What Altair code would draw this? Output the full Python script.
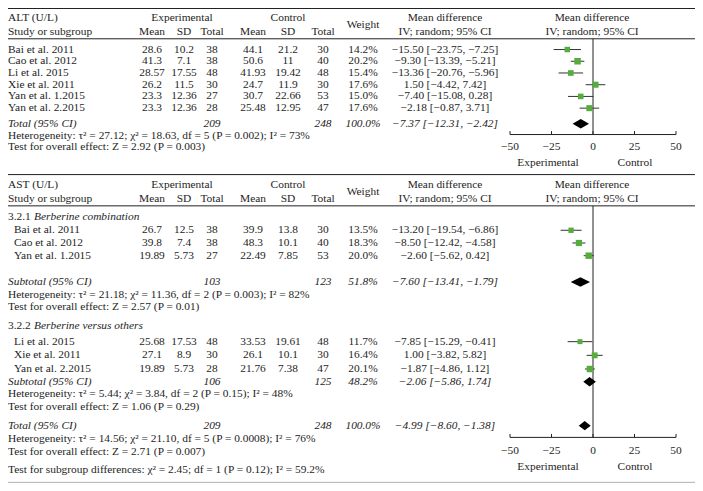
import altair as alt
import pandas as pd

# ---------------- data ----------------
alt_study = ["Bai et al. 2011", "Cao et al. 2012", "Li et al. 2015", "Xie et al. 2011",
             "Yan et al. 1.2015", "Yan et al. 2.2015"]
alt_e_mean = ["28.6", "41.3", "28.57", "26.2", "23.3", "23.3"]
alt_e_sd = ["10.2", "7.1", "17.55", "11.5", "12.36", "12.36"]
alt_e_n = [38, 38, 48, 30, 27, 28]
alt_c_mean = ["44.1", "50.6", "41.93", "24.7", "30.7", "25.48"]
alt_c_sd = ["21.2", "11", "19.42", "11.9", "22.66", "12.95"]
alt_c_n = [30, 40, 48, 30, 53, 47]
alt_weight = [14.2, 20.2, 15.4, 17.6, 15.0, 17.6]
alt_md = [-15.50, -9.30, -13.36, 1.50, -7.40, -2.18]
alt_lo = [-23.75, -13.39, -20.76, -4.42, -15.08, -8.07]
alt_hi = [-7.25, -5.21, -5.96, 7.42, 0.28, 3.71]
alt_ci_label = ["−15.50 [−23.75, −7.25]", "−9.30 [−13.39, −5.21]", "−13.36 [−20.76, −5.96]",
                "1.50 [−4.42, 7.42]", "−7.40 [−15.08, 0.28]", "−2.18 [−0.87, 3.71]"]
alt_total = {"md": -7.37, "lo": -12.31, "hi": -2.42, "ne": 209, "nc": 248, "w": "100.0%"}
alt_het = "Heterogeneity: τ² = 27.12; χ² = 18.63, df = 5 (P = 0.002); I² = 73%"
alt_test = "Test for overall effect: Z = 2.92 (P = 0.003)"

ast_study = ["Bai et al. 2011", "Cao et al. 2012", "Yan et al. 1.2015",
             "Li et al. 2015", "Xie et al. 2011", "Yan et al. 2.2015"]
ast_e_mean = ["26.7", "39.8", "19.89", "25.68", "27.1", "19.89"]
ast_e_sd = ["12.5", "7.4", "5.73", "17.53", "8.9", "5.73"]
ast_e_n = [38, 38, 27, 48, 30, 28]
ast_c_mean = ["39.9", "48.3", "22.49", "33.53", "26.1", "21.76"]
ast_c_sd = ["13.8", "10.1", "7.85", "19.61", "10.1", "7.38"]
ast_c_n = [30, 40, 53, 48, 30, 47]
ast_weight = [13.5, 18.3, 20.0, 11.7, 16.4, 20.1]
ast_md = [-13.20, -8.50, -2.60, -7.85, 1.00, -1.87]
ast_lo = [-19.54, -12.42, -5.62, -15.29, -3.82, -4.86]
ast_hi = [-6.86, -4.58, 0.42, -0.41, 5.82, 1.12]
ast_sub1 = {"md": -7.60, "lo": -13.41, "hi": -1.79, "ne": 103, "nc": 123, "w": "51.8%"}
ast_sub2 = {"md": -2.06, "lo": -5.86, "hi": 1.74, "ne": 106, "nc": 125, "w": "48.2%"}
ast_total = {"md": -4.99, "lo": -8.60, "hi": -1.38, "ne": 209, "nc": 248, "w": "100.0%"}
ast_het1 = "Heterogeneity: τ² = 21.18; χ² = 11.36, df = 2 (P = 0.003); I² = 82%"
ast_test1 = "Test for overall effect: Z = 2.57 (P = 0.01)"
ast_het2 = "Heterogeneity: τ² = 5.44; χ² = 3.84, df = 2 (P = 0.15); I² = 48%"
ast_test2 = "Test for overall effect: Z = 1.06 (P = 0.29)"
ast_het = "Heterogeneity: τ² = 14.56; χ² = 21.10, df = 5 (P = 0.0008); I² = 76%"
ast_test = "Test for overall effect: Z = 2.71 (P = 0.007)"
ast_subgroup = "Test for subgroup differences: χ² = 2.45; df = 1 (P = 0.12); I² = 59.2%"
ticks = [-50, -25, 0, 25, 50]


def fmt(v):
    return f"{v:.2f}".replace("-", "−")


def ci_text(d):
    return f"{fmt(d['md'])} [{fmt(d['lo'])}, {fmt(d['hi'])}]"


# ---------------- layout (reference-pixel positions) ----------------
FONT = "Liberation Serif"
FS = 11.4
X_REF = alt.Scale(domain=[0, 703], range=[-3, 700])
# ref y 3 -> chart 0.5 ; ref 488 -> chart 474.3
Y_REF = alt.Scale(domain=[0, 491], range=[0.5 - 3 * 0.977, 0.5 + 488 * 0.977])
FX = alt.Scale(domain=[-50, 50], range=[502, 668])

CX = dict(study=3, indent=9, emean=147, esd=179, en=207, cmean=248, csd=283, cn=318,
          weight=358, md=440, forest=587, exp_h=177, ctl_h=283, sub_italic=29)

L_ALT = dict(top=3, h1=13, weight=20, h2=27, hline=34,
             rows=[45, 57, 69, 81, 93, 105], total=121, het=133, test=145,
             axis=132, ticklab=145, side=161, sep=173)
L_AST = dict(h1=184, weight=191, h2=198, hline=205, g1=216, rows1=[230, 243, 256],
             sub1=283, het1=296, test1=309, g2=328, rows2=[344, 358, 372],
             sub2=385, het2=398, test2=411, total=430, het=444, test=457, subgroup=475,
             axis=442, ticklab=456, side=472, bottom=488)
SIDE_X = {"Experimental": 543, "Control": 630}

texts = []


def T(text, x, y, align="left", italic=False):
    texts.append({"text": str(text), "x": x, "y": y, "align": align, "italic": italic})


def header(L, title):
    T(title, CX["study"], L["h1"])
    T("Experimental", CX["exp_h"], L["h1"], "center")
    T("Control", CX["ctl_h"], L["h1"], "center")
    T("Weight", CX["weight"], L["weight"], "center")
    T("Mean difference", CX["md"], L["h1"], "center")
    T("Mean difference", CX["forest"], L["h1"], "center")
    T("Study or subgroup", CX["study"], L["h2"])
    for k, lab in [("emean", "Mean"), ("esd", "SD"), ("en", "Total"),
                   ("cmean", "Mean"), ("csd", "SD"), ("cn", "Total")]:
        T(lab, CX[k], L["h2"], "center")
    T("IV; random; 95% CI", CX["md"], L["h2"], "center")
    T("IV; random; 95% CI", CX["forest"], L["h2"], "center")


def study_row(name, em, es, en, cm, cs, cn, w, lab, y, xname):
    T(name, xname, y)
    for k, v in [("emean", em), ("esd", es), ("en", en), ("cmean", cm), ("csd", cs), ("cn", cn)]:
        T(v, CX[k], y, "center")
    T(f"{w:.1f}%", CX["weight"], y, "center")
    T(lab, CX["md"], y, "center")


def pooled_row(label, d, y):
    T(label, CX["study"], y, italic=True)
    T(d["ne"], CX["en"], y, "center", True)
    T(d["nc"], CX["cn"], y, "center", True)
    T(d["w"], CX["weight"], y, "center", True)
    T(ci_text(d), CX["md"], y, "center", True)


# ALT section
header(L_ALT, "ALT (U/L)")
for i in range(6):
    study_row(alt_study[i], alt_e_mean[i], alt_e_sd[i], alt_e_n[i], alt_c_mean[i], alt_c_sd[i],
              alt_c_n[i], alt_weight[i], alt_ci_label[i], L_ALT["rows"][i], CX["study"])
pooled_row("Total (95% CI)", alt_total, L_ALT["total"])
T(alt_het, CX["study"], L_ALT["het"])
T(alt_test, CX["study"], L_ALT["test"])

# AST section
header(L_AST, "AST (U/L)")
T("3.2.1", CX["study"], L_AST["g1"])
T("Berberine combination", CX["sub_italic"], L_AST["g1"], italic=True)
ast_rows_y = L_AST["rows1"] + L_AST["rows2"]
for i in range(6):
    lab = ci_text({"md": ast_md[i], "lo": ast_lo[i], "hi": ast_hi[i]})
    study_row(ast_study[i], ast_e_mean[i], ast_e_sd[i], ast_e_n[i], ast_c_mean[i], ast_c_sd[i],
              ast_c_n[i], ast_weight[i], lab, ast_rows_y[i], CX["indent"])
pooled_row("Subtotal (95% CI)", ast_sub1, L_AST["sub1"])
T(ast_het1, CX["study"], L_AST["het1"])
T(ast_test1, CX["study"], L_AST["test1"])
T("3.2.2", CX["study"], L_AST["g2"])
T("Berberine versus others", CX["sub_italic"], L_AST["g2"], italic=True)
pooled_row("Subtotal (95% CI)", ast_sub2, L_AST["sub2"])
T(ast_het2, CX["study"], L_AST["het2"])
T(ast_test2, CX["study"], L_AST["test2"])
pooled_row("Total (95% CI)", ast_total, L_AST["total"])
T(ast_het, CX["study"], L_AST["het"])
T(ast_test, CX["study"], L_AST["test"])
T(ast_subgroup, CX["study"], L_AST["subgroup"])

# side labels
for L in (L_ALT, L_AST):
    for k, v in SIDE_X.items():
        T(k, v, L["side"], "center")

tdf = pd.DataFrame(texts)

xr = alt.X("x:Q", scale=X_REF, axis=None)
yr = alt.Y("y:Q", scale=Y_REF, axis=None)


def text_layer(align, italic):
    d = tdf[(tdf["align"] == align) & (tdf["italic"] == italic)]
    return alt.Chart(d).mark_text(
        align=align, baseline="middle", font=FONT, fontSize=FS, color="#1e1e1e",
        fontStyle="italic" if italic else "normal"
    ).encode(x=xr, y=yr, text="text:N")


# horizontal separator lines
hl = pd.DataFrame([
    {"x": 0, "x2": 703, "y": L_ALT["top"], "c": "#222222"},
    {"x": 0, "x2": 703, "y": L_ALT["hline"], "c": "#222222"},
    {"x": 0, "x2": 703, "y": L_ALT["sep"], "c": "#222222"},
    {"x": 0, "x2": 703, "y": L_AST["hline"], "c": "#222222"},
    {"x": 0, "x2": 703, "y": L_AST["bottom"], "c": "#b0b0b0"},
])
hlines = alt.Chart(hl).mark_rule(strokeWidth=1).encode(
    x=xr, x2="x2:Q", y=yr, color=alt.Color("c:N", scale=None))

# forest: study rows
fdf = pd.DataFrame({
    "md": alt_md + ast_md, "lo": alt_lo + ast_lo, "hi": alt_hi + ast_hi,
    "w": alt_weight + ast_weight, "y": L_ALT["rows"] + ast_rows_y,
})
fx = lambda f: alt.X(f"{f}:Q", scale=FX, axis=None)
ci = alt.Chart(fdf).mark_rule(color="#333333", strokeWidth=1).encode(x=fx("lo"), x2="hi:Q", y=yr)
sq = alt.Chart(fdf).mark_square(filled=True, opacity=1, color="#56ad3d").encode(
    x=fx("md"), y=yr,
    size=alt.Size("w:Q", scale=alt.Scale(domain=[0, 20], range=[0, 42]), legend=None))

# diamonds
dia = []
for i, (d, y) in enumerate([(alt_total, L_ALT["total"]), (ast_sub1, L_AST["sub1"]),
                            (ast_sub2, L_AST["sub2"]), (ast_total, L_AST["total"])]):
    h = 4.8
    dia += [{"id": i, "v": d["lo"], "y": y, "y2": y},
            {"id": i, "v": d["md"], "y": y - h, "y2": y + h},
            {"id": i, "v": d["hi"], "y": y, "y2": y}]
diamonds = alt.Chart(pd.DataFrame(dia)).mark_area(color="black", orient="vertical").encode(
    x=fx("v"), y=yr, y2="y2:Q", detail="id:N")

# zero lines and axes
zl = pd.DataFrame([{"v": 0, "y": L_ALT["hline"], "y2": L_ALT["axis"]},
                   {"v": 0, "y": L_AST["hline"], "y2": L_AST["axis"]}])
zero = alt.Chart(zl).mark_rule(color="#222222", strokeWidth=1).encode(x=fx("v"), y=yr, y2="y2:Q")

ax = pd.DataFrame([{"v": ticks[0], "v2": ticks[-1], "y": L["axis"]} for L in (L_ALT, L_AST)])
axis_line = alt.Chart(ax).mark_rule(color="#222222", strokeWidth=1).encode(x=fx("v"), x2="v2:Q", y=yr)

tk = pd.DataFrame([{"v": t, "y": L["axis"], "y2": L["axis"] - 3.5,
                    "lab": str(t).replace("-", "−"), "ly": L["ticklab"]}
                   for L in (L_ALT, L_AST) for t in ticks])
tick_marks = alt.Chart(tk).mark_rule(color="#222222", strokeWidth=1).encode(
    x=fx("v"), y=yr, y2="y2:Q")
tick_labels = alt.Chart(tk).mark_text(
    align="center", baseline="middle", font=FONT, fontSize=FS, color="#1e1e1e"
).encode(x=fx("v"), y=alt.Y("ly:Q", scale=Y_REF, axis=None), text="lab:N")

chart = alt.layer(
    hlines, zero, axis_line, tick_marks, ci, sq, diamonds, tick_labels,
    text_layer("left", False), text_layer("left", True),
    text_layer("center", False), text_layer("center", True),
).resolve_scale(x="independent").properties(
    width=687, height=475, autosize=alt.AutoSizeParams(type="none"), padding=0
).configure_view(stroke=None)

chart.save("out.html", embed_options={"renderer": "svg", "actions": False})
